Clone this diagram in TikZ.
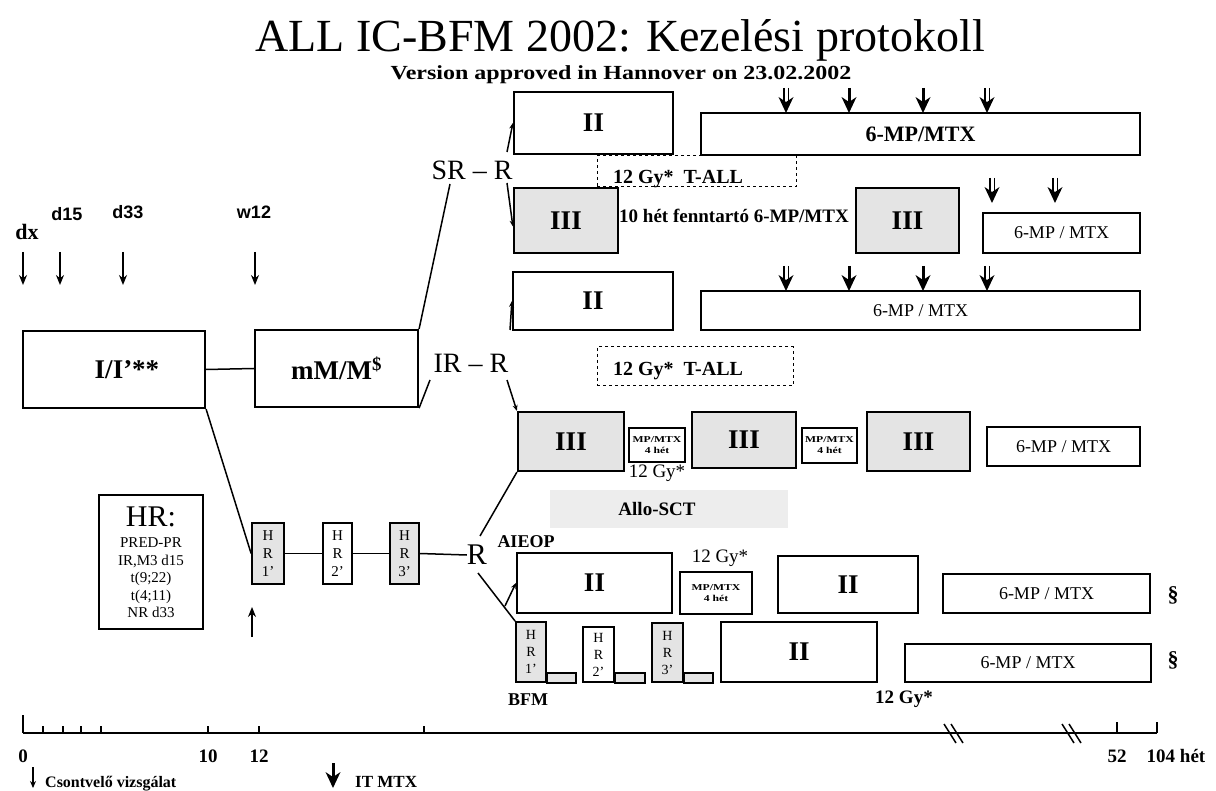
\documentclass[tikz,border=0pt]{standalone}
\usepackage{fontspec}
\setmainfont{Liberation Serif}
\newfontfamily\arialf{Liberation Sans}
\usetikzlibrary{arrows.meta}
\newcommand\fsz[2]{\fontsize{#1}{#2}\selectfont}
\definecolor{boxgray}{HTML}{E4E4E4}
\definecolor{allogray}{HTML}{EDEDED}
\tikzset{
 box/.style={draw, line width=2.2pt, inner sep=0pt, font=\bfseries\fsz{27}{27}},
 gbox/.style={box, fill=boxgray},
 mbox/.style={draw, line width=2.2pt, inner sep=0pt, font=\fsz{18}{18}},
 dbox/.style={draw, dashed, line width=1pt, inner sep=0pt},
 tinybox/.style={draw, line width=1.8pt, inner sep=0pt, align=center, font=\bfseries\fsz{9}{11}},
 hrbox/.style={draw, line width=1.8pt, inner sep=0pt, align=center, font=\fsz{15}{18}},
 txt/.style={inner sep=0pt},
 con/.style={line width=1.5pt},
 sarr/.style={con, -{Stealth[length=6pt,width=5pt]}},
 tarr/.style={line width=1.4pt, -{Stealth[length=10pt,width=8pt]}},
 itm/.pic={\draw[line width=3pt] (0,0) -- (0,14);
   \fill (-7.5,9) -- (0,25) -- (7.5,9) -- (0,14) -- cycle;},
 itmd/.pic={\draw[line width=1.6pt] (-2.3,0) -- (-2.3,14) (2.3,0) -- (2.3,14);
   \fill (-7.5,9) -- (0,25) -- (7.5,9) -- (0,14) -- cycle;}
}
\begin{document}
\begin{tikzpicture}[x=1pt,y=-1pt]
\useasboundingbox[fill=white] (0,0) rectangle (1216,791);

% titles
\node[txt, anchor=base, font=\fsz{46}{46}] (title) at (620,52) {ALL IC-BFM 2002: Kezelési protokoll};
\node[txt, anchor=base, font=\bfseries\fsz{20}{20}] (subtitle) at (621,80) {\scalebox{1.2}[1]{Version approved in Hannover on 23.02.2002}};

% time labels
\node[txt, anchor=base, font=\bfseries\fsz{22}{22}] (ldx) at (27,240) {dx};
\node[txt, anchor=base, font=\arialf\bfseries\fsz{18}{18}] (ld15) at (67,221) {d15};
\node[txt, anchor=base, font=\arialf\bfseries\fsz{18}{18}] (ld33) at (128,219) {d33};
\node[txt, anchor=base, font=\arialf\bfseries\fsz{18}{18}] (lw12) at (254,219) {w12};
\coordinate (adx) at (23,252); \coordinate (ad15) at (60,252);
\coordinate (ad33) at (123,252); \coordinate (aw12) at (255,252);
\draw[tarr] (adx) -- ++(0,33);
\draw[tarr] (ad15) -- ++(0,33);
\draw[tarr] (ad33) -- ++(0,33);
\draw[tarr] (aw12) -- ++(0,33);

% induction
\node[box, minimum width=182pt, minimum height=77pt] (I) at (114,369.5) {\hspace*{26pt}I/I'**};
\node[box, minimum width=163pt, minimum height=77pt] (mM) at (336.5,368.5) {mM/M\textsuperscript{\$}};
\draw[con] (I.east) -- (mM.west);

% SR
\node[txt, anchor=base, font=\fsz{28}{28}] (srr) at (472,180) {SR -- R};
\coordinate (srfoot) at (450,184);
\draw[con] (mM.north east) -- (srfoot);
\coordinate (srA) at (507,152); \coordinate (srB) at (507,183);
\node[box, minimum width=159pt, minimum height=62pt] (srII) at (593.5,123) {II};
\node[box, font=\bfseries\fsz{22}{22}, minimum width=439pt, minimum height=42pt] (srMP) at (920.5,134) {6-MP/MTX};
\node[dbox, minimum width=199pt, minimum height=31pt] (srT) at (696.5,171.5) {};
\node[txt, anchor=base, font=\bfseries\fsz{20}{20}] (srTt) at (678,184) {12 Gy*\enspace T-ALL};
\node[gbox, minimum width=104pt, minimum height=65pt] (srIII1) at (566,220.5) {III};
\node[txt, anchor=base, font=\bfseries\fsz{19}{19}] (tenw) at (734,223) {10 hét fenntartó 6-MP/MTX};
\node[gbox, minimum width=103pt, minimum height=65pt] (srIII2) at (907.5,220.5) {III};
\node[mbox, minimum width=157pt, minimum height=40pt] (srMP2) at (1061.5,233) {6-MP / MTX};
\draw[sarr] (srA) -- (srII.west);
\draw[sarr] (srB) -- ([yshift=-6pt]srIII1.west);
\foreach \x in {786,987} \pic at (\x,88) {itmd};
\foreach \x in {849,923} \pic at (\x,88) {itm};
\foreach \x in {992,1055} \pic at (\x,178) {itmd};

% IR
\node[txt, anchor=base, font=\fsz{28}{28}] (irr) at (471,373) {IR -- R};
\coordinate (irfoot) at (430,380);
\draw[con] (mM.south east) -- (irfoot);
\coordinate (irA) at (510,330); \coordinate (irB) at (507,380);
\node[box, minimum width=160pt, minimum height=58pt] (irII) at (593,301) {II};
\node[mbox, minimum width=439pt, minimum height=39pt] (irMP) at (920.5,310.5) {6-MP / MTX};
\foreach \x in {786,987} \pic at (\x,266) {itmd};
\foreach \x in {849,923} \pic at (\x,266) {itm};
\node[dbox, minimum width=196pt, minimum height=39pt] (irT) at (695,366.5) {};
\node[txt, anchor=base, font=\bfseries\fsz{20}{20}] (irTt) at (678,376) {12 Gy*\enspace T-ALL};
\node[gbox, minimum width=106pt, minimum height=59pt] (irIII1) at (571,441.5) {III};
\node[tinybox, minimum width=56pt, minimum height=34pt] (mp1) at (657,445) {\scalebox{1.3}[1]{MP/MTX}\\\scalebox{1.3}[1]{4 hét}};
\node[gbox, minimum width=104pt, minimum height=56pt] (irIII2) at (744,440) {III};
\node[tinybox, minimum width=55pt, minimum height=35pt] (mp2) at (829.5,445.5) {\scalebox{1.3}[1]{MP/MTX}\\\scalebox{1.3}[1]{4 hét}};
\node[gbox, minimum width=103pt, minimum height=59pt] (irIII3) at (918.5,441.5) {III};
\node[mbox, minimum width=153pt, minimum height=39pt] (irMP2) at (1063.5,446.5) {6-MP / MTX};
\node[txt, anchor=base, font=\fsz{19}{19}] (gy1) at (657,478) {12 Gy*};
\node[fill=allogray, minimum width=238pt, minimum height=38pt, inner sep=0pt, font=\bfseries\fsz{19}{19}] (allo) at (669,509) {\hspace*{-24pt}Allo-SCT};
\draw[sarr] (irA) -- (irII.west);
\draw[sarr] (irB) -- (irIII1.north west);

% HR
\node[draw, line width=2pt, minimum width=104pt, minimum height=134pt, inner sep=0pt, align=center, font=\fsz{15}{17.5}] (hrbox) at (151,562)
 {{\fsz{30}{30}HR:}\\[4pt]PRED-PR\\IR,M3 d15\\t(9;22)\\t(4;11)\\NR d33};
\node[hrbox, fill=boxgray, minimum width=32pt, minimum height=61pt] (hr1) at (268,553.5) {H\\R\\1'};
\node[hrbox, minimum width=29pt, minimum height=61pt] (hr2) at (337.5,553.5) {H\\R\\2'};
\node[hrbox, fill=boxgray, minimum width=29pt, minimum height=61pt] (hr3) at (404.5,553.5) {H\\R\\3'};
\node[txt, font=\fsz{30}{30}] (rr) at (477,555) {R};
\draw[con] (I.south east) -- (hr1.west);
\draw[con] (hr1.east) -- (hr2.west);
\draw[con] (hr2.east) -- (hr3.west);
\draw[con] (hr3.east) -- (rr.west);
\coordinate (upa) at (252,637);
\draw[tarr] (upa) -- ++(0,-30);
\coordinate (rrA) at (480,536); \coordinate (rrB) at (478,573); \coordinate (rrC) at (505,606);
\draw[con] (rrA) -- (irIII1.south west);

% AIEOP row
\node[txt, anchor=base, font=\bfseries\fsz{18}{18}] (aieop) at (526,547) {AIEOP};
\node[box, minimum width=155pt, minimum height=60pt] (aII) at (594.5,583) {II};
\node[txt, anchor=base, font=\fsz{19}{19}] (gy2) at (720,562) {12 Gy*};
\node[tinybox, minimum width=72pt, minimum height=42pt] (amp) at (716,593) {\scalebox{1.3}[1]{MP/MTX}\\\scalebox{1.3}[1]{4 hét}};
\node[box, minimum width=140pt, minimum height=57pt] (aII2) at (848,584.5) {II};
\node[mbox, minimum width=207pt, minimum height=39pt] (aMP) at (1046.5,593.5) {6-MP / MTX};
\node[txt, font=\bfseries\fsz{22}{22}] (par1) at (1173,595) {\S};

% BFM row
\node[hrbox, fill=boxgray, font=\fsz{14}{17}, minimum width=30pt, minimum height=60pt] (b1) at (531,652) {H\\R\\1'};
\node[hrbox, font=\fsz{14}{17}, minimum width=31pt, minimum height=55pt] (b2) at (598.5,654.5) {H\\R\\2'};
\node[hrbox, fill=boxgray, font=\fsz{14}{17}, minimum width=31pt, minimum height=59pt] (b3) at (667.5,652.5) {H\\R\\3'};
\draw[line width=1.8pt, fill=boxgray] (b1.south east) rectangle ++(29,-10);
\draw[line width=1.8pt, fill=boxgray] (b2.south east) rectangle ++(30,-10);
\draw[line width=1.8pt, fill=boxgray] (b3.south east) rectangle ++(29,-10);
\node[box, minimum width=156pt, minimum height=60pt] (bII) at (799,652) {II};
\node[mbox, minimum width=246pt, minimum height=38pt] (bMP) at (1028,663) {6-MP / MTX};
\node[txt, font=\bfseries\fsz{22}{22}] (par2) at (1173,660) {\S};
\node[txt, anchor=base, font=\bfseries\fsz{18}{18}] (bfm) at (528,705) {BFM};
\node[txt, anchor=base, font=\bfseries\fsz{19}{19}] (gy3) at (904,703) {12 Gy*};
\draw[con] (rrB) -- (b1.north west);
\draw[sarr] (rrC) -- (aII.west);

% time axis
\draw[line width=2pt] (23,733) -- (1157,733);
\draw[line width=2.5pt] (23,715) -- (23,733);
\foreach \x in {43,63,81,101,208,259,424} \draw[line width=1.5pt] (\x,726) -- (\x,733);
\foreach \x in {1117,1157} \draw[line width=1.5pt] (\x,722) -- (\x,733);
\foreach \x in {955,1073} {
  \draw[line width=1.5pt] (\x-11,724) -- (\x+1,743);
  \draw[line width=1.5pt] (\x-4,724) -- (\x+8,743);
}
\node[txt, anchor=base, font=\bfseries\fsz{19}{19}] (t0) at (23,762) {0};
\node[txt, anchor=base, font=\bfseries\fsz{19}{19}] (t10) at (208,762) {10};
\node[txt, anchor=base, font=\bfseries\fsz{19}{19}] (t12) at (259,762) {12};
\node[txt, anchor=base, font=\bfseries\fsz{19}{19}] (t52) at (1117,762) {52};
\node[txt, anchor=base, font=\bfseries\fsz{19}{19}] (t104) at (1176,762) {104 hét};

% legend
\coordinate (lg1) at (33,767);
\draw[line width=1.2pt, -{Stealth[length=7pt,width=6pt]}] (lg1) -- ++(0,21);
\node[txt, anchor=base west, font=\bfseries\fsz{16}{16}] (lgt1) at (45,787) {Csontvelő vizsgálat};
\pic at (333,763) {itm};
\node[txt, anchor=base west, font=\bfseries\fsz{17}{17}] (lgt2) at (355,787) {IT MTX};
\end{tikzpicture}
\end{document}
